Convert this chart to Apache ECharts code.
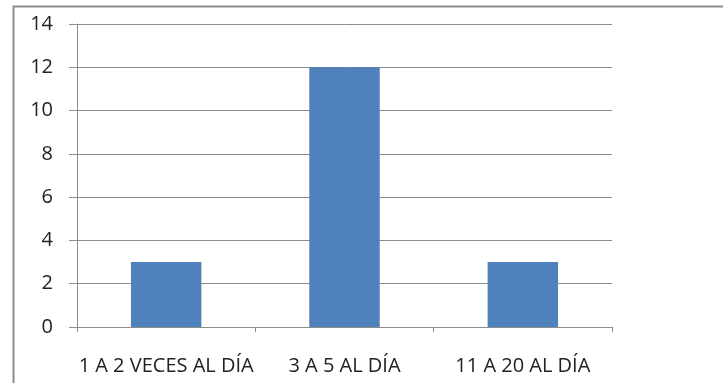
<!DOCTYPE html>
<html>
  <head>
    <meta charset="UTF-8" />
    <title>Frecuencia</title>
    <script src="https://cdn.jsdelivr.net/npm/echarts@6/dist/echarts.min.js"></script>
    <style>
      html, body { margin: 0; padding: 0; background: #fff; }
      #chart { width: 723px; height: 383px; }
    </style>
  </head>
  <body>
    <div id="chart"></div>
    <script type="text/javascript">
      // datos del gráfico
      var categorias = ["1 A 2 VECES AL DÍA", "3 A 5 AL DÍA", "11 A 20 AL DÍA"];
      var valores = [3, 12, 3];
      var ejeY = { min: 0, max: 14, interval: 2 };

      var myChart = echarts.init(document.getElementById("chart"));

      var option = {
        animation: false,
        // marco del gráfico (se corta a la derecha y abajo)
        graphic: [
          {
            type: "rect",
            left: 11,
            top: 4,
            shape: { width: 760, height: 420 },
            style: { fill: "none", stroke: "#8c8c8c", lineWidth: 2 },
          },
        ],
        grid: { left: 77, right: 111, top: 24, bottom: 56 },
        xAxis: {
          type: "category",
          data: categorias,
          axisLine: { lineStyle: { color: "#8c8c8c", width: 1 } },
          axisTick: { show: true, length: 5, lineStyle: { color: "#8c8c8c" } },
          axisLabel: {
            interval: 0,
            hideOverlap: false,
            color: "#222",
            fontFamily: "Open Sans",
            fontSize: 20,
            margin: 29,
          },
        },
        yAxis: {
          type: "value",
          min: ejeY.min,
          max: ejeY.max,
          interval: ejeY.interval,
          axisLine: { show: true, lineStyle: { color: "#8c8c8c", width: 1 } },
          axisTick: { show: true, length: 8, lineStyle: { color: "#8c8c8c" } },
          splitLine: { lineStyle: { color: "#8c8c8c", width: 1 } },
          axisLabel: {
            color: "#222",
            fontFamily: "Open Sans",
            fontSize: 20,
            margin: 24,
          },
        },
        series: [
          {
            type: "bar",
            data: valores,
            barWidth: "39.5%",
            itemStyle: { color: "#4f81bd" },
          },
        ],
      };

      myChart.setOption(option);
    </script>
  </body>
</html>
